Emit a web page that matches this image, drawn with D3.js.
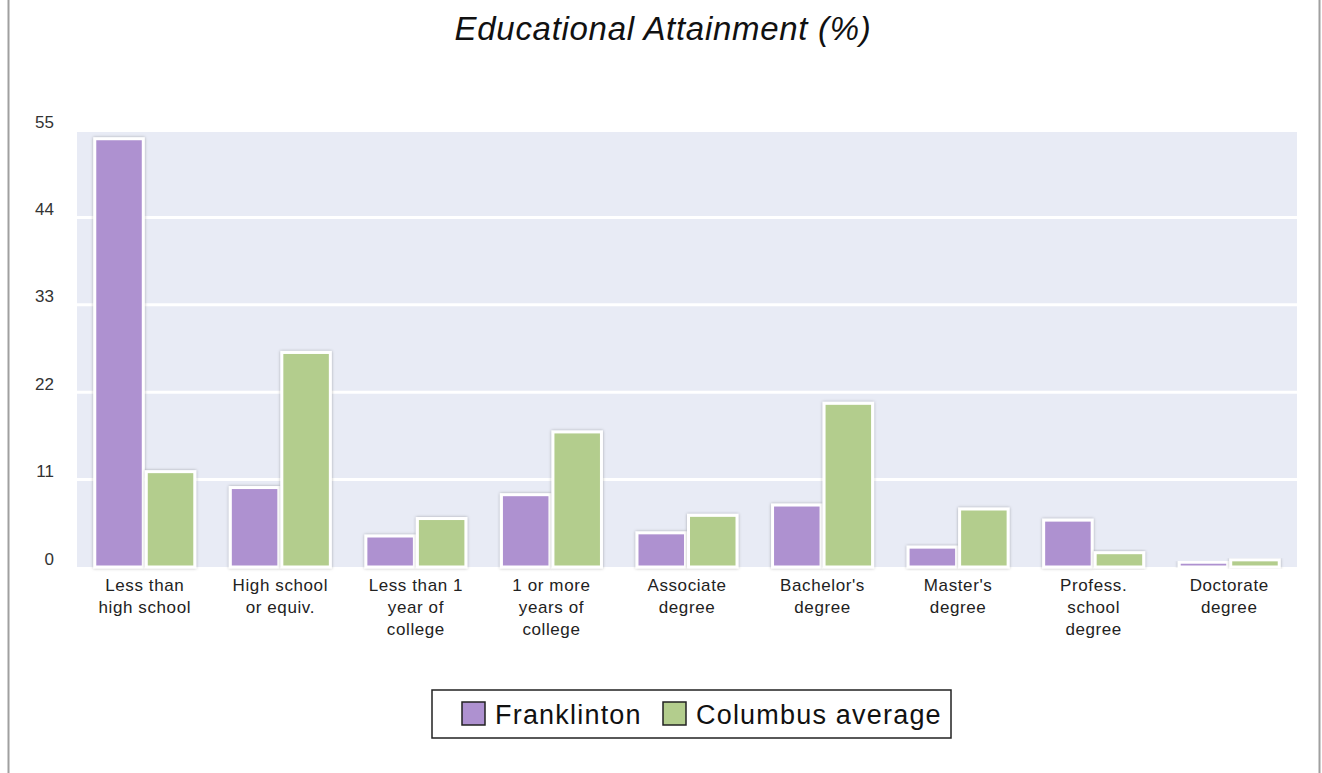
<!DOCTYPE html>
<html>
<head>
<meta charset="utf-8">
<script src="https://cdn.jsdelivr.net/npm/d3@7"></script>
<style>
  body { margin: 0; background: #fff; }
  text { font-family: "Liberation Sans", Arial, sans-serif; }
</style>
</head>
<body>
<div id="chart"></div>
<script>
var categories = [
    ["Less than", "high school"],
    ["High school", "or equiv."],
    ["Less than 1", "year of", "college"],
    ["1 or more", "years of", "college"],
    ["Associate", "degree"],
    ["Bachelor's", "degree"],
    ["Master's", "degree"],
    ["Profess.", "school", "degree"],
    ["Doctorate", "degree"]
];
var seriesNames = ["Franklinton", "Columbus average"];
var franklinton = [53.9, 10.0, 3.9, 9.1, 4.3, 7.8, 2.5, 5.9, 0.6];
var columbus = [12.0, 27.0, 6.1, 17.0, 6.5, 20.6, 7.3, 1.8, 0.9];
var yTicks = [0, 11, 22, 33, 44, 55];
var colors = ["#ae91d0", "#b3cd8d"];

function init() {
    var w = 1322, h = 773,
        margin = {top: 130, right: 25, bottom: 208, left: 77},
        width = w - margin.left - margin.right,
        height = h - margin.top - margin.bottom;

    var svg = d3.select("#chart").append("svg")
        .attr("width", w)
        .attr("height", h);

    // page frame lines
    svg.append("line").attr("x1", 8.5).attr("x2", 8.5).attr("y1", 0).attr("y2", h)
        .attr("stroke", "#a0a0a0").attr("stroke-width", 2);
    svg.append("line").attr("x1", 1319.5).attr("x2", 1319.5).attr("y1", 0).attr("y2", h)
        .attr("stroke", "#a0a0a0").attr("stroke-width", 2);

    var defs = svg.append("defs");
    var f = defs.append("filter").attr("id", "shadow")
        .attr("x", "-20%").attr("y", "-20%").attr("width", "140%").attr("height", "140%");
    f.append("feDropShadow").attr("dx", 0).attr("dy", 0)
        .attr("stdDeviation", 1.6).attr("flood-color", "#000").attr("flood-opacity", 0.3);

    svg.append("text")
        .attr("x", 663).attr("y", 40)
        .attr("text-anchor", "middle")
        .style("font-size", "33px")
        .style("font-style", "italic")
        .style("letter-spacing", "0.7px")
        .style("fill", "#111")
        .text("Educational Attainment (%)");

    var g = svg.append("g")
        .attr("transform", "translate(" + margin.left + "," + margin.top + ")");

    var y = d3.scaleLinear().domain([0, 55]).range([height + 2, 0]);

    var x0 = d3.scaleBand()
        .domain(d3.range(categories.length))
        .range([0, width])
        .paddingInner(0.24)
        .paddingOuter(0.12);

    var x1 = d3.scaleBand()
        .domain([0, 1])
        .range([0, x0.bandwidth()]);

    // plot background
    g.append("rect")
        .attr("x", 0).attr("y", y(55) + 2)
        .attr("width", width).attr("height", y(0) - y(55) - 2)
        .attr("fill", "#e8ebf5");

    // gridlines
    g.selectAll(".grid")
        .data(yTicks.filter(d => d > 0 && d < 55))
        .enter().append("line")
        .attr("x1", 0).attr("x2", width)
        .attr("y1", d => y(d)).attr("y2", d => y(d))
        .attr("stroke", "#fff").attr("stroke-width", 3);

    // y axis labels
    var yAxis = d3.axisLeft(y).tickValues(yTicks).tickSize(0).tickPadding(23);
    var ya = g.append("g").call(yAxis);
    ya.select(".domain").remove();
    ya.selectAll("text")
        .attr("dy", -3)
        .style("font-size", "17px")
        .style("fill", "#333");

    // bars
    var groups = g.selectAll(".grp")
        .data(categories)
        .enter().append("g")
        .attr("transform", (d, i) => "translate(" + x0(i) + ",0)");

    groups.selectAll("rect")
        .data((d, i) => [franklinton[i], columbus[i]])
        .enter().append("rect")
        .attr("x", (d, j) => x1(j) + 1.5)
        .attr("y", d => y(d))
        .attr("width", x1.bandwidth() - 3)
        .attr("height", d => y(0) - y(d))
        .attr("fill", (d, j) => colors[j])
        .attr("stroke", "#fff")
        .attr("stroke-width", 3)
        .attr("filter", "url(#shadow)");

    // x labels
    groups.each(function(lines) {
        var t = d3.select(this).append("text")
            .attr("text-anchor", "middle")
            .style("font-size", "17px")
            .style("letter-spacing", "0.6px")
            .style("fill", "#222");
        lines.forEach(function(l, k) {
            t.append("tspan")
                .attr("x", x0.bandwidth() / 2)
                .attr("y", height + 26 + k * 22)
                .text(l);
        });
    });

    // legend
    var lg = svg.append("g").attr("transform", "translate(432,690)");
    lg.append("rect")
        .attr("width", 519).attr("height", 48)
        .attr("fill", "#fff").attr("stroke", "#222").attr("stroke-width", 1.5);
    var lx = [30, 231];
    seriesNames.forEach(function(s, i) {
        lg.append("rect")
            .attr("x", lx[i]).attr("y", 12)
            .attr("width", 23).attr("height", 23)
            .attr("fill", colors[i]).attr("stroke", "#222").attr("stroke-width", 1.5);
        lg.append("text")
            .attr("x", lx[i] + 33).attr("y", 34)
            .style("font-size", "27px")
            .style("letter-spacing", "1.2px")
            .style("fill", "#111")
            .text(s);
    });
}

init();
</script>
</body>
</html>
